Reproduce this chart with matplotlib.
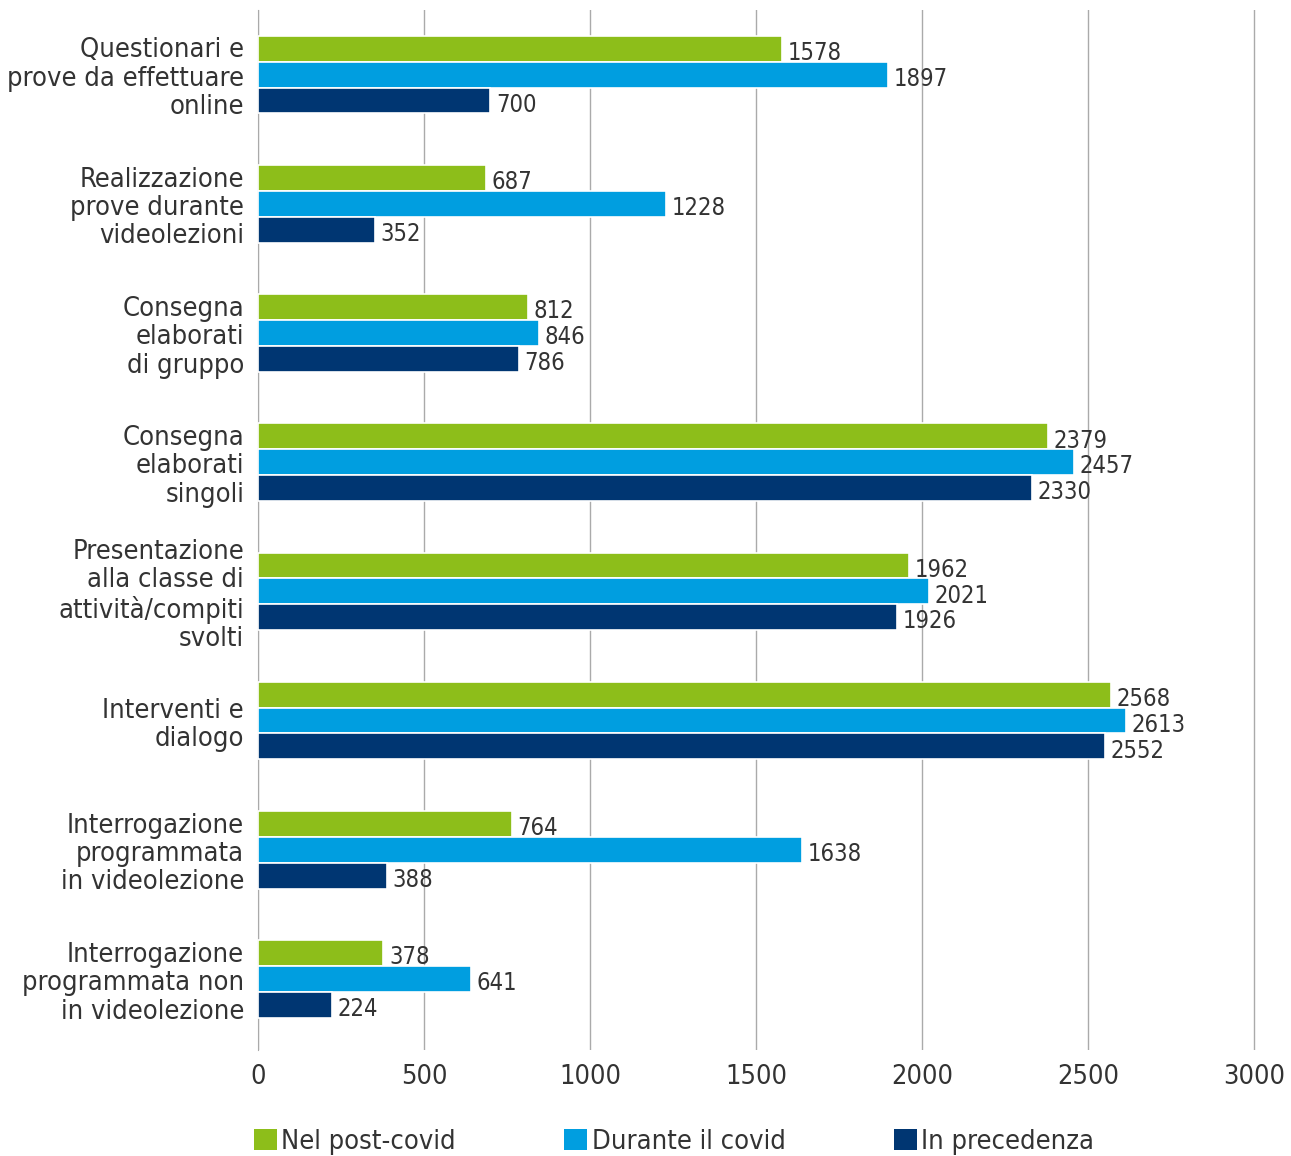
import matplotlib
matplotlib.use("Agg")
import matplotlib.pyplot as plt
from matplotlib.patches import Patch
import numpy as np

plt.rcParams["font.family"] = ["DejaVu Sans"]
plt.rcParams["font.stretch"] = "condensed"

categories = [
    "Questionari e\nprove da effettuare\nonline",
    "Realizzazione\nprove durante\nvideolezioni",
    "Consegna\nelaborati\ndi gruppo",
    "Consegna\nelaborati\nsingoli",
    "Presentazione\nalla classe di\nattività/compiti\nsvolti",
    "Interventi e\ndialogo",
    "Interrogazione\nprogrammata\nin videolezione",
    "Interrogazione\nprogrammata non\nin videolezione",
]
post_covid = [1578, 687, 812, 2379, 1962, 2568, 764, 378]
durante_covid = [1897, 1228, 846, 2457, 2021, 2613, 1638, 641]
in_precedenza = [700, 352, 786, 2330, 1926, 2552, 388, 224]
series_names = ["Nel post-covid", "Durante il covid", "In precedenza"]
colors = ["#8dbe1a", "#009ee0", "#003672"]

text_color = "#333333"

fig = plt.figure(figsize=(12.91, 11.56), dpi=100)
ax = fig.add_axes([258 / 1291, 106 / 1156, 1000 / 1291, 1040 / 1156])

y = np.arange(len(categories))
h = 0.2
offsets = [-h, 0, h]
for vals, off, col in zip([post_covid, durante_covid, in_precedenza], offsets, colors):
    ax.barh(y + off, vals, height=h, color=col, edgecolor="white", linewidth=1.2, zorder=3)
    for yi, v in zip(y, vals):
        ax.annotate(str(v), (v, yi + off), xytext=(4, -3), textcoords="offset points",
                    va="center", ha="left", fontsize=17, color=text_color, zorder=4)

ax.set_xlim(0, 3012)
ax.set_ylim(len(categories) - 0.45, -0.5)
ax.set_xticks(range(0, 3001, 500))
ax.set_yticks(y)
ax.set_yticklabels(categories, fontsize=19.5, color=text_color, linespacing=1.12)
ax.tick_params(axis="x", labelsize=19.5, colors=text_color, length=0, pad=10)
ax.tick_params(axis="y", length=0, pad=10)
ax.grid(axis="x", color="#aaaaaa", linewidth=1, zorder=0)
for s in ["top", "right", "bottom"]:
    ax.spines[s].set_visible(False)
ax.spines["left"].set_color("#aaaaaa")

handles = [Patch(facecolor=c, edgecolor="none") for c in colors]
leg = fig.legend(handles, series_names, loc="lower left", bbox_to_anchor=(230 / 1291, -0.02),
                 ncol=3, frameon=False, fontsize=19.5, handlelength=0.85, handleheight=0.85,
                 handletextpad=0.15, columnspacing=4.0)
for t in leg.get_texts():
    t.set_color(text_color)

fig.savefig("out.png", dpi=100)
